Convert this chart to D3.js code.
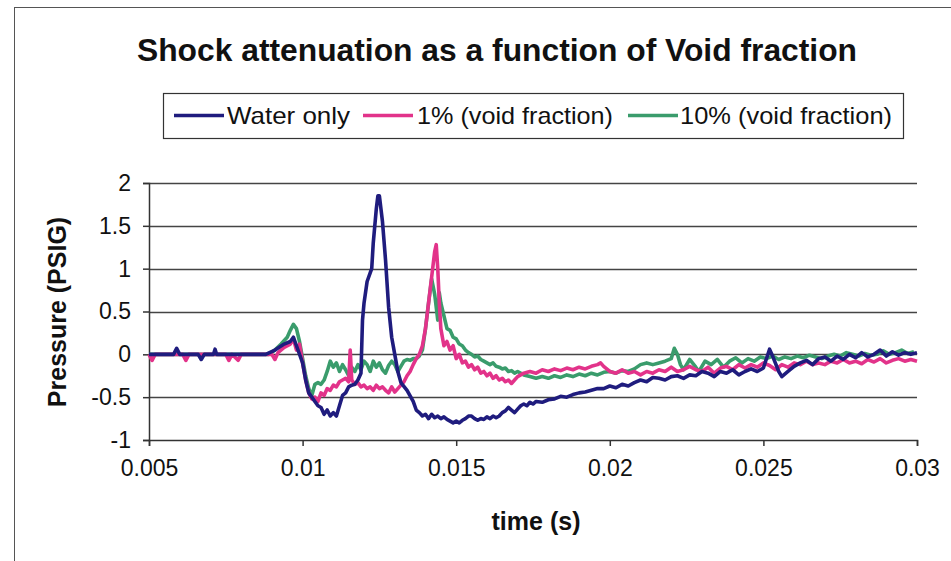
<!DOCTYPE html>
<html>
<head>
<meta charset="utf-8">
<script src="https://cdn.jsdelivr.net/npm/d3@7"></script>
<style>
  html, body { margin: 0; padding: 0; background: #fff; }
  svg { display: block; font-family: "Liberation Sans", Arial, Helvetica, sans-serif; }
</style>
</head>
<body>
<svg id="chart" width="951" height="561"></svg>
<script>
const chartTitle = "Shock attenuation as a function of Void fraction";
const xAxisTitle = "time (s)";
const yAxisTitle = "Pressure (PSIG)";
const seriesNames = ["Water only", "1% (void fraction)", "10% (void fraction)"];
const seriesColors = ["#1f1c7e", "#e2338a", "#3a9c6c"];
const xTicks = [0.005, 0.01, 0.015, 0.02, 0.025, 0.03];
const xTickLabels = ["0.005", "0.01", "0.015", "0.02", "0.025", "0.03"];
const yTicks = [-1, -0.5, 0, 0.5, 1, 1.5, 2];
const yTickLabels = ["-1", "-0.5", "0", "0.5", "1", "1.5", "2"];

const waterOnly = [
[0.0050,0],[0.0055,0],[0.0058,0],[0.0059,0.07],[0.0060,0],[0.0066,0],[0.0067,-0.06],[0.0068,0],[0.0071,0],[0.00715,0.06],[0.0072,0],[0.0080,0],[0.0088,0],
[0.0091,0.05],[0.0094,0.12],[0.0096,0.15],[0.0097,0.2],[0.0098,0.1],[0.0100,-0.1],[0.0101,-0.3],[0.0102,-0.45],[0.0103,-0.5],[0.0104,-0.55],[0.0105,-0.6],
[0.0106,-0.62],[0.0107,-0.7],[0.0108,-0.65],[0.0109,-0.72],[0.0110,-0.68],[0.0111,-0.72],[0.0112,-0.6],[0.0113,-0.48],[0.0114,-0.45],[0.0115,-0.38],
[0.0116,-0.36],[0.0117,-0.35],[0.0118,-0.3],[0.0119,-0.22],[0.01195,0.4],[0.0120,0.6],[0.0121,0.85],[0.0122,0.95],[0.01225,1.0],[0.0123,1.3],[0.0124,1.7],
[0.01245,1.85],[0.0125,1.85],[0.0126,1.55],[0.0127,1.1],[0.0128,0.55],[0.0129,0.2],[0.0130,0.0],[0.0131,-0.2],[0.0132,-0.33],[0.0134,-0.42],[0.0136,-0.55],
[0.0137,-0.65],[0.0138,-0.68],[0.0139,-0.72],[0.0140,-0.7],[0.0141,-0.75],[0.0142,-0.7],[0.0143,-0.74],[0.0144,-0.72],[0.0145,-0.75],[0.0146,-0.73],
[0.0147,-0.76],[0.0148,-0.78],[0.0149,-0.8],[0.0150,-0.78],[0.0151,-0.8],[0.0152,-0.77],[0.0153,-0.75],[0.0154,-0.72],[0.0155,-0.72],[0.0156,-0.75],
[0.0157,-0.77],[0.0158,-0.75],[0.0159,-0.76],[0.0160,-0.73],[0.0161,-0.75],[0.0162,-0.72],[0.0163,-0.74],[0.0164,-0.72],[0.0165,-0.68],[0.0166,-0.66],
[0.0167,-0.62],[0.0168,-0.65],[0.0169,-0.68],[0.0170,-0.64],[0.0171,-0.6],[0.0172,-0.58],[0.0173,-0.6],[0.0174,-0.56],[0.0175,-0.58],[0.0176,-0.55],
[0.0178,-0.56],[0.0180,-0.53],[0.0182,-0.52],[0.0184,-0.49],[0.0186,-0.5],[0.0188,-0.47],[0.0190,-0.45],[0.0192,-0.44],[0.0194,-0.42],[0.0196,-0.4],
[0.0198,-0.4],[0.0200,-0.37],[0.0202,-0.39],[0.0204,-0.35],[0.0206,-0.37],[0.0208,-0.33],[0.0210,-0.3],[0.0212,-0.32],[0.0214,-0.27],[0.0216,-0.28],
[0.0218,-0.3],[0.0220,-0.26],[0.0222,-0.25],[0.0224,-0.28],[0.0226,-0.24],[0.0228,-0.25],[0.0230,-0.2],[0.0232,-0.22],[0.0234,-0.26],[0.0236,-0.2],
[0.0238,-0.22],[0.0240,-0.18],[0.0242,-0.24],[0.0244,-0.2],[0.0246,-0.17],[0.0248,-0.2],[0.0250,-0.16],[0.0252,0.06],[0.0253,-0.02],[0.0255,-0.2],
[0.0256,-0.26],[0.0258,-0.2],[0.0260,-0.14],[0.0262,-0.1],[0.0264,-0.07],[0.0266,-0.12],[0.0268,-0.05],[0.0270,-0.03],[0.0272,-0.08],[0.0274,-0.02],
[0.0276,-0.06],[0.0278,0.0],[0.0280,-0.04],[0.0282,0.02],[0.0284,-0.03],[0.0286,0.0],[0.0288,0.05],[0.0290,-0.02],[0.0292,0.03],[0.0294,-0.01],
[0.0296,0.02],[0.0298,0.0],[0.0300,0.02]
];

const voidOnePct = [
[0.0050,0],[0.0051,-0.07],[0.0052,0],[0.0061,0],[0.0062,-0.07],[0.0063,0],[0.0075,0],[0.0076,-0.07],[0.0077,0],[0.0079,-0.07],[0.0080,0],[0.0090,0],
[0.0091,-0.06],[0.0092,0.02],[0.0094,0.08],[0.0096,0.12],[0.0097,0.18],[0.0098,0.05],[0.0099,0.12],[0.0100,-0.1],[0.0101,-0.3],[0.0102,-0.45],[0.0103,-0.52],
[0.0104,-0.5],[0.0105,-0.55],[0.0106,-0.45],[0.0107,-0.48],[0.0108,-0.4],[0.0109,-0.42],[0.0110,-0.36],[0.0111,-0.38],[0.0112,-0.32],[0.0113,-0.3],
[0.0114,-0.28],[0.0115,-0.32],[0.01155,0.05],[0.0116,-0.3],[0.0117,-0.35],[0.0118,-0.33],[0.0119,-0.38],[0.0120,-0.36],[0.0121,-0.4],[0.0122,-0.38],
[0.0123,-0.42],[0.0124,-0.36],[0.0125,-0.4],[0.0126,-0.38],[0.0127,-0.42],[0.0128,-0.45],[0.0129,-0.38],[0.0130,-0.44],[0.0131,-0.4],[0.0132,-0.36],
[0.0133,-0.32],[0.0134,-0.25],[0.0135,-0.2],[0.0136,-0.12],[0.0137,-0.05],[0.0138,0.0],[0.0139,0.1],[0.0140,0.3],[0.0141,0.6],[0.0142,0.9],[0.0143,1.2],
[0.01435,1.28],[0.0144,1.0],[0.01445,0.6],[0.0145,0.3],[0.0146,0.1],[0.0147,0.15],[0.0148,0.05],[0.0149,0.1],[0.0150,-0.05],[0.0151,0.0],[0.0152,-0.1],
[0.0153,-0.08],[0.0154,-0.15],[0.0155,-0.12],[0.0156,-0.18],[0.0157,-0.15],[0.0158,-0.22],[0.0159,-0.2],[0.0160,-0.25],[0.0161,-0.22],[0.0162,-0.28],
[0.0163,-0.25],[0.0164,-0.3],[0.0165,-0.28],[0.0166,-0.32],[0.0167,-0.3],[0.0168,-0.34],[0.0169,-0.3],[0.0170,-0.26],[0.0172,-0.22],[0.0174,-0.2],
[0.0176,-0.22],[0.0178,-0.18],[0.0180,-0.2],[0.0182,-0.17],[0.0184,-0.19],[0.0186,-0.16],[0.0188,-0.18],[0.0190,-0.15],[0.0192,-0.17],[0.0194,-0.14],
[0.0196,-0.12],[0.0197,-0.1],[0.0198,-0.14],[0.0200,-0.2],[0.0202,-0.22],[0.0204,-0.18],[0.0206,-0.22],[0.0208,-0.2],[0.0210,-0.24],[0.0212,-0.2],
[0.0214,-0.22],[0.0216,-0.18],[0.0218,-0.2],[0.0220,-0.15],[0.0222,-0.2],[0.0224,-0.18],[0.0226,-0.14],[0.0228,-0.18],[0.0230,-0.2],[0.0232,-0.15],
[0.0234,-0.22],[0.0236,-0.16],[0.0238,-0.14],[0.0240,-0.18],[0.0242,-0.12],[0.0244,-0.16],[0.0246,-0.12],[0.0248,-0.15],[0.0250,-0.1],[0.0252,-0.13],
[0.0254,-0.18],[0.0256,-0.12],[0.0258,-0.15],[0.0260,-0.1],[0.0262,-0.12],[0.0264,-0.08],[0.0266,-0.12],[0.0268,-0.1],[0.0270,-0.12],[0.0272,-0.08],
[0.0274,-0.1],[0.0276,-0.06],[0.0278,-0.1],[0.0280,-0.08],[0.0282,-0.11],[0.0284,-0.06],[0.0286,-0.09],[0.0288,-0.05],[0.0290,-0.1],[0.0292,-0.07],
[0.0294,-0.05],[0.0296,-0.08],[0.0298,-0.06],[0.0300,-0.08]
];

const voidTenPct = [
[0.0050,0],[0.0089,0],[0.0091,0.05],[0.0093,0.12],[0.0095,0.2],[0.0096,0.28],[0.0097,0.35],[0.0098,0.3],[0.0099,0.15],[0.0100,-0.05],[0.0101,-0.25],
[0.0102,-0.4],[0.0103,-0.48],[0.0104,-0.35],[0.0105,-0.33],[0.0106,-0.35],[0.0107,-0.3],[0.0108,-0.2],[0.0109,-0.08],[0.0110,-0.15],[0.0111,-0.1],
[0.0112,-0.2],[0.0113,-0.12],[0.0114,-0.18],[0.0115,-0.25],[0.0116,-0.15],[0.0117,-0.2],[0.0118,-0.12],[0.0119,-0.18],[0.0120,-0.08],[0.0121,-0.12],
[0.0122,-0.2],[0.0123,-0.08],[0.0124,-0.15],[0.0125,-0.1],[0.0126,-0.18],[0.0127,-0.22],[0.0128,-0.13],[0.0129,-0.08],[0.0130,-0.12],[0.0131,-0.2],
[0.0132,-0.14],[0.0133,-0.08],[0.0134,-0.06],[0.0135,-0.07],[0.0136,-0.05],[0.0137,-0.05],[0.0138,-0.02],[0.0139,0.05],[0.0140,0.3],[0.0141,0.6],
[0.0142,0.88],[0.0143,0.7],[0.0144,0.4],[0.01445,0.72],[0.0145,0.6],[0.0146,0.45],[0.0147,0.3],[0.0148,0.28],[0.0149,0.2],[0.0150,0.18],[0.0151,0.12],
[0.0152,0.1],[0.0153,0.05],[0.0154,0.02],[0.0155,0.0],[0.0156,-0.03],[0.0157,-0.02],[0.0158,-0.06],[0.0159,-0.08],[0.0160,-0.1],[0.0161,-0.12],
[0.0162,-0.1],[0.0163,-0.14],[0.0164,-0.15],[0.0165,-0.17],[0.0166,-0.16],[0.0167,-0.2],[0.0168,-0.19],[0.0169,-0.22],[0.0170,-0.2],[0.0172,-0.24],
[0.0174,-0.26],[0.0176,-0.28],[0.0178,-0.26],[0.0180,-0.28],[0.0182,-0.25],[0.0184,-0.27],[0.0186,-0.24],[0.0188,-0.26],[0.0190,-0.23],[0.0192,-0.25],
[0.0194,-0.22],[0.0196,-0.24],[0.0198,-0.21],[0.0200,-0.2],[0.0202,-0.22],[0.0204,-0.19],[0.0206,-0.2],[0.0208,-0.17],[0.0210,-0.12],[0.0212,-0.1],
[0.0214,-0.12],[0.0216,-0.1],[0.0218,-0.08],[0.0220,-0.05],[0.0221,0.07],[0.0222,0.0],[0.0223,-0.12],[0.0224,-0.18],[0.0226,-0.06],[0.0228,-0.15],
[0.0229,-0.2],[0.0231,-0.08],[0.0233,-0.12],[0.0235,-0.06],[0.0237,-0.15],[0.0239,-0.08],[0.0241,-0.04],[0.0243,-0.1],[0.0245,-0.05],[0.0247,-0.08],
[0.0249,-0.03],[0.0251,-0.05],[0.0253,-0.02],[0.0255,-0.06],[0.0257,-0.03],[0.0259,-0.05],[0.0261,-0.02],[0.0263,-0.04],[0.0265,-0.01],[0.0267,-0.03],
[0.0269,-0.05],[0.0271,-0.02],[0.0273,0.0],[0.0275,-0.02],[0.0277,0.02],[0.0279,0.0],[0.0281,-0.02],[0.0283,0.01],[0.0285,-0.01],[0.0287,0.0],
[0.0289,0.04],[0.0291,0.0],[0.0293,0.02],[0.0295,0.05],[0.0297,0.01],[0.0299,0.03]
];

const seriesData = [waterOnly, voidOnePct, voidTenPct];

const svg = d3.select("#chart");

// outer chart border (cropped at right and bottom)
svg.append("rect").attr("x", 14.5).attr("y", 7.5).attr("width", 960).attr("height", 600)
  .attr("fill", "#fff").attr("stroke", "#555").attr("stroke-width", 1);

const plot = { left: 149, right: 917, top: 183, bottom: 440 };
const x = d3.scaleLinear().domain([0.005, 0.03]).range([plot.left, plot.right]);
const y = d3.scaleLinear().domain([-1, 2]).range([plot.bottom, plot.top]);

// gridlines
svg.append("g").selectAll("line").data(yTicks.filter(d => d !== -1)).join("line")
  .attr("x1", plot.left).attr("x2", plot.right)
  .attr("y1", d => Math.round(y(d)) + 0.5).attr("y2", d => Math.round(y(d)) + 0.5)
  .attr("stroke", "#444").attr("stroke-width", 1.5);

// y axis
const yAxis = d3.axisLeft(y).tickValues(yTicks).tickSize(6).tickPadding(12)
  .tickFormat((d, i) => yTickLabels[i]);
const gy = svg.append("g").attr("transform", `translate(${plot.left},0)`).call(yAxis);
gy.select(".domain").attr("stroke", "#333").attr("stroke-width", 1.5);
gy.selectAll(".tick line").attr("stroke", "#333").attr("stroke-width", 1.5);
gy.selectAll(".tick text").attr("font-size", 23).attr("fill", "#111")
  .attr("font-family", "'Liberation Sans', Arial, sans-serif");

// x axis
const xAxis = d3.axisBottom(x).tickValues(xTicks).tickSize(6).tickPadding(14)
  .tickFormat((d, i) => xTickLabels[i]);
const gx = svg.append("g").attr("transform", `translate(0,${plot.bottom})`).call(xAxis);
gx.select(".domain").attr("stroke", "#333").attr("stroke-width", 1.5);
gx.selectAll(".tick line").attr("stroke", "#333").attr("stroke-width", 1.5);
gx.selectAll(".tick text").attr("font-size", 23).attr("fill", "#111")
  .attr("font-family", "'Liberation Sans', Arial, sans-serif");

// series lines
const line = d3.line().x(d => x(d[0])).y(d => y(d[1]));
const linesG = svg.append("g");
[2, 1, 0].forEach(i => {
  linesG.append("path").datum(seriesData[i])
    .attr("d", line).attr("fill", "none")
    .attr("stroke", seriesColors[i]).attr("stroke-width", 3.6)
    .attr("stroke-linejoin", "round");
});

// title
svg.append("text").attr("x", 497).attr("y", 61).attr("text-anchor", "middle")
  .attr("font-size", 31).attr("font-weight", "bold").attr("fill", "#111")
  .attr("textLength", 720).attr("lengthAdjust", "spacingAndGlyphs")
  .text(chartTitle);

// axis titles
svg.append("text").attr("x", 536).attr("y", 530).attr("text-anchor", "middle")
  .attr("font-size", 25).attr("font-weight", "bold").attr("fill", "#111")
  .text(xAxisTitle);
svg.append("text").attr("transform", "translate(66,312) rotate(-90)").attr("text-anchor", "middle")
  .attr("font-size", 25).attr("font-weight", "bold").attr("fill", "#111")
  .text(yAxisTitle);

// legend
const legendBox = { x: 163, y: 93, w: 740, h: 45 };
svg.append("rect").attr("x", legendBox.x + 0.5).attr("y", legendBox.y + 0.5)
  .attr("width", legendBox.w).attr("height", legendBox.h)
  .attr("fill", "#fff").attr("stroke", "#333").attr("stroke-width", 1.2);
const legendItems = [
  { lineX: 174, textX: 227, textLen: 123 },
  { lineX: 363, textX: 417, textLen: 196 },
  { lineX: 628, textX: 680, textLen: 212 }
];
const legendY = legendBox.y + legendBox.h / 2;
legendItems.forEach((it, i) => {
  svg.append("line").attr("x1", it.lineX).attr("x2", it.lineX + 50)
    .attr("y1", legendY).attr("y2", legendY)
    .attr("stroke", seriesColors[i]).attr("stroke-width", 3.6);
  svg.append("text").attr("x", it.textX).attr("y", legendY + 8.5)
    .attr("font-size", 24).attr("fill", "#111")
    .attr("textLength", it.textLen).attr("lengthAdjust", "spacingAndGlyphs")
    .text(seriesNames[i]);
});
</script>
</body>
</html>
